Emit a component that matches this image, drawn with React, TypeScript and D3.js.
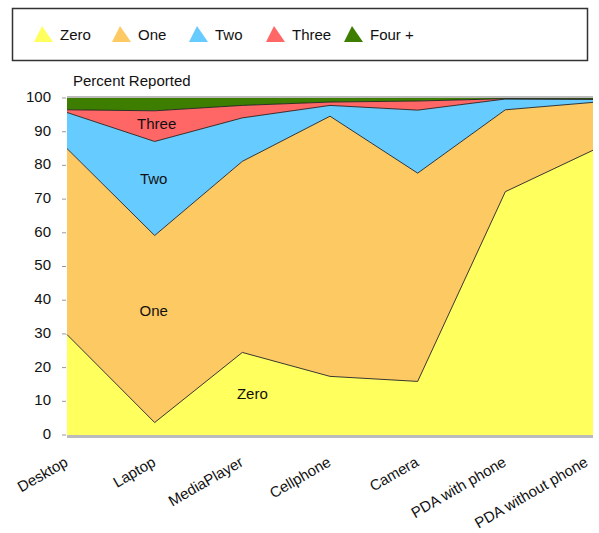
import React from "react";
import * as d3 from "d3";

const categories = ["Desktop", "Laptop", "MediaPlayer", "Cellphone", "Camera", "PDA with phone", "PDA without phone"];
const seriesNames = ["Zero", "One", "Two", "Three", "Four +"];
const zero = [29.8, 3.7, 24.5, 17.4, 15.9, 72.2, 84.5];
const one = [55.2, 55.5, 56.7, 77.2, 61.8, 24.3, 14.2];
const two = [10.7, 27.9, 12.9, 3.2, 18.7, 3.2, 0.9];
const three = [0.8, 9.1, 3.7, 1.0, 2.7, 0.1, 0.1];
const four = [3.5, 3.8, 2.2, 1.2, 0.9, 0.2, 0.3];
const yTicks = [0, 10, 20, 30, 40, 50, 60, 70, 80, 90, 100];
const colors = ["#ffff5e", "#fdc962", "#66ccff", "#ff6666", "#3d7e00"];

const FONT = "'Liberation Sans', Arial, Helvetica, sans-serif";

export default function App() {
  const W = 599, H = 533;
  const x = d3.scalePoint<string>().domain(categories).range([67, 593]);
  const y = d3.scaleLinear().domain([0, 100]).range([435, 98]);

  const rows = categories.map((c, i) => ({
    cat: c,
    Zero: zero[i],
    One: one[i],
    Two: two[i],
    Three: three[i],
    "Four +": four[i],
  }));
  const stacked = d3.stack<any>().keys(seriesNames)(rows);
  const area = d3
    .area<any>()
    .x((d) => x(d.data.cat) as number)
    .y0((d) => y(d[0]))
    .y1((d) => y(d[1]));
  const line = d3
    .line<any>()
    .x((d) => x(d.data.cat) as number)
    .y((d) => y(d[1]));

  const legendX = [34, 112, 189, 266, 344];
  const inLabels = [
    { t: "Three", c: "Laptop", v: 92, dx: 2 },
    { t: "Two", c: "Laptop", v: 75.8, dx: -1 },
    { t: "One", c: "Laptop", v: 36.5, dx: -1 },
    { t: "Zero", c: "MediaPlayer", v: 12, dx: 10 },
  ];

  return (
    <svg
      width={W}
      height={H}
      style={{ position: "absolute", left: 0, top: 0, background: "#fff" }}
      fontFamily={FONT}
    >
      {/* legend */}
      <rect x={12.5} y={8.5} width={575} height={52} fill="#fff" stroke="#333" strokeWidth={1.5} />
      {seriesNames.map((s, i) => (
        <g key={s} transform={`translate(${legendX[i]},0)`}>
          <path d="M0,42 L8,26 L19,42 Z" fill={colors[i]} />
          <text x={26} y={39.5} fontSize={15} fill="#111">
            {s}
          </text>
        </g>
      ))}

      <text x={73} y={86} fontSize={15} fill="#111">
        Percent Reported
      </text>

      {/* areas */}
      {stacked.map((s, i) => (
        <path key={i} d={area(s) as string} fill={colors[i]} />
      ))}
      {stacked.slice(0, 4).map((s, i) => (
        <path key={"l" + i} d={line(s) as string} fill="none" stroke="#222" strokeWidth={0.9} />
      ))}
      {/* frame lines */}
      <line x1={67} x2={593} y1={y(100) - 1} y2={y(100) - 1} stroke="#bbb" strokeWidth={2} />
      <line x1={67} x2={593} y1={y(0) + 1.5} y2={y(0) + 1.5} stroke="#bbb" strokeWidth={3} />

      {/* y axis */}
      {yTicks.map((t) => (
        <g key={t}>
          <line x1={62} x2={66} y1={y(t)} y2={y(t)} stroke="#999" strokeWidth={1} />
          <text x={51} y={y(t)} fontSize={15} textAnchor="end" dominantBaseline="middle" fill="#111">
            {t}
          </text>
        </g>
      ))}

      {/* x labels */}
      {categories.map((c) => (
        <text
          key={c}
          transform={`translate(${Math.min((x(c) as number) + 2, 589)},${465}) rotate(-30)`}
          fontSize={15}
          textAnchor="end"
          fill="#111"
        >
          {c}
        </text>
      ))}

      {/* in-chart labels */}
      {inLabels.map((l) => (
        <text
          key={l.t}
          x={(x(l.c) as number) + l.dx}
          y={y(l.v)}
          fontSize={15}
          textAnchor="middle"
          dominantBaseline="middle"
          fill="#111"
        >
          {l.t}
        </text>
      ))}
    </svg>
  );
}
